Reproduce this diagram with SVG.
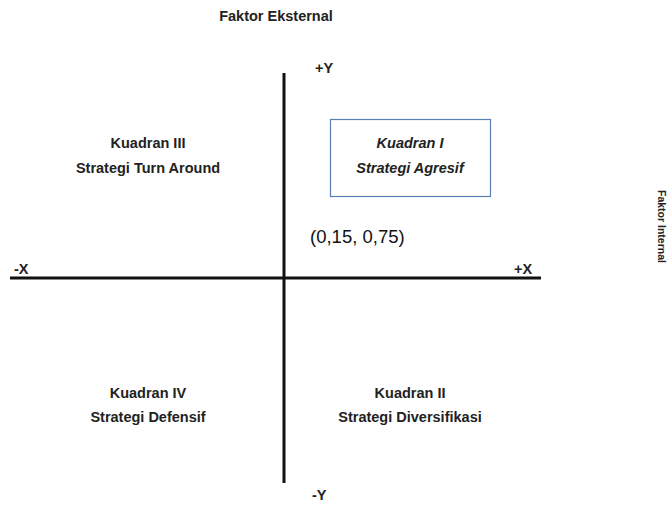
<svg xmlns="http://www.w3.org/2000/svg" width="668" height="505" viewBox="0 0 668 505">
<style>
.t{font-family:"Liberation Sans",Arial,sans-serif;font-weight:bold;font-size:14.5px;fill:#222;}
.c{text-anchor:middle;}
.i{font-style:italic;}
.ax{stroke:#111;stroke-width:3;fill:none;}
</style>
<rect width="668" height="505" fill="#fff"/>
<g id="connectors">
<line class="ax" x1="284" y1="73" x2="284" y2="483"/>
<line class="ax" x1="10" y1="278" x2="541" y2="278"/>
</g>
<g id="title"><text class="t c" x="276" y="21">Faktor Eksternal</text></g>
<g id="side"><text class="t" style="font-size:10.5px" transform="translate(658,190) rotate(90)">Faktor Internal</text></g>
<g id="labels">
<text class="t" x="315" y="73">+Y</text>
<text class="t" x="312" y="500">-Y</text>
<text class="t" x="14" y="274">-X</text>
<text class="t" x="514" y="274">+X</text>
</g>
<g id="q3">
<text class="t c" x="148" y="148">Kuadran III</text>
<text class="t c" x="148" y="173">Strategi Turn Around</text>
</g>
<g id="q1">
<rect x="330.5" y="119.5" width="160" height="77" fill="none" stroke="#5b7fb5" stroke-width="1.2"/>
<text class="t c i" x="410" y="148">Kuadran I</text>
<text class="t c i" x="410" y="173">Strategi Agresif</text>
</g>
<g id="point"><text x="310" y="243" style="font-family:'Liberation Sans',Arial,sans-serif;font-size:18.5px;fill:#111">(0,15, 0,75)</text></g>
<g id="q4">
<text class="t c" x="148" y="398">Kuadran IV</text>
<text class="t c" x="148" y="422">Strategi Defensif</text>
</g>
<g id="q2">
<text class="t c" x="410" y="398">Kuadran II</text>
<text class="t c" x="410" y="422">Strategi Diversifikasi</text>
</g>
</svg>
